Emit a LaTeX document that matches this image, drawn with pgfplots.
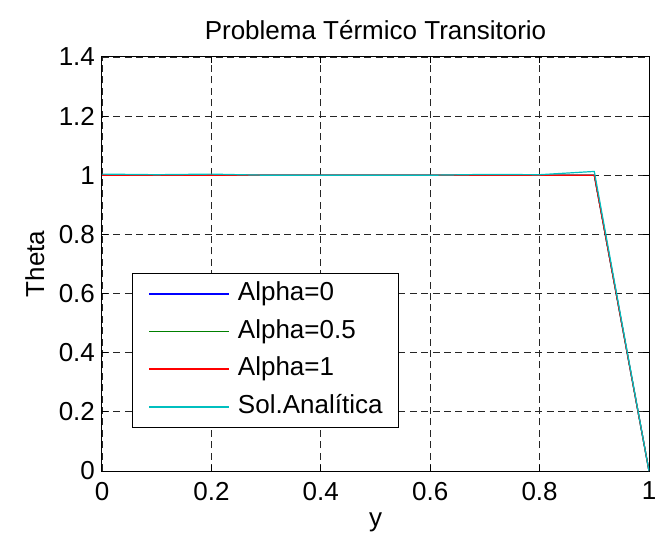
\documentclass[border=0pt]{standalone}
\usepackage{fontspec}
\setmainfont{Liberation Sans}
\usepackage{pgfplots}
\pgfplotsset{compat=1.18}
\definecolor{matblue}{rgb}{0,0,1}
\definecolor{matgreen}{rgb}{0,0.5,0}
\definecolor{matred}{rgb}{1,0,0}
\definecolor{matcyan}{rgb}{0,0.75,0.75}
\begin{document}
\begin{tikzpicture}
\useasboundingbox (-51pt,-37pt) rectangle (277.5pt,235.5pt);
\begin{axis}[
  at={(0pt,0pt)}, anchor=south west,
  scale only axis,
  width=273.5pt, height=207pt,
  xmin=0, xmax=1, ymin=0, ymax=1.4,
  xtick={0,0.2,0.4,0.6,0.8,1},
  ytick={0,0.2,0.4,0.6,0.8,1,1.2,1.4},
  xticklabels={0,0.2,0.4,0.6,0.8,1},
  yticklabels={0,0.2,0.4,0.6,0.8,1,1.2,1.4},
  font=\fontsize{13}{15}\selectfont,
  /pgf/number format/assume math mode=true,
  tick align=inside,
  major tick length=3pt,
  axis line style={line width=0.5pt},
  every tick/.style={black, line width=0.5pt},
  grid=major,
  major grid style={dash pattern=on 3.5pt off 2.2pt, black!85, line width=0.4pt},
  title={Problema Térmico Transitorio},
  every axis title shift=0pt,
  title style={at={(axis description cs:0.5,1)}, anchor=base, yshift=8.5pt, inner sep=0pt},
  xlabel={y},
  ylabel={Theta},
  xlabel style={at={(axis description cs:0.5,-0.123)}, anchor=center},
  ylabel style={at={(axis description cs:-0.123,0.5)}, anchor=center},
  xticklabel style={yshift=-2pt},
  legend cell align=left,
  legend image code/.code={\path (0pt,0pt); \draw[#1, line width=0.9pt] (4pt,0pt) -- (44pt,0pt);},
  legend style={
    at={(axis description cs:0.0548,0.1039)}, anchor=south west,
    draw=black, line width=0.5pt, fill=white,
    inner xsep=4pt, inner ysep=4pt,
    row sep=6.35pt,
    nodes={inner xsep=4pt, inner ysep=0pt, text height=9.5pt, text depth=3pt},
    font=\fontsize{13}{15}\selectfont,
  },
]
\addplot[draw=matblue, line width=0.6pt] coordinates {
 (0,1) (0.1,1) (0.2,1) (0.3,1) (0.4,1) (0.5,1) (0.6,1) (0.7,1) (0.8,1) (0.9,1) (1,0)};
\addlegendentry{Alpha=0}
\addplot[draw=matgreen, line width=0.6pt] coordinates {
 (0,1) (0.1,1) (0.2,1) (0.3,1) (0.4,1) (0.5,1) (0.6,1) (0.7,1) (0.8,1) (0.9,1) (1,0)};
\addlegendentry{Alpha=0.5}
\addplot[draw=matred, line width=0.6pt] coordinates {
 (0,1) (0.1,1) (0.2,1) (0.3,1) (0.4,1) (0.5,1) (0.6,1) (0.7,1) (0.8,1) (0.9,1) (1,0)};
\addlegendentry{Alpha=1}
\addplot[draw=matcyan, line width=0.6pt] coordinates {
 (0,1.004) (0.1,1.002) (0.2,1.004) (0.3,1.0) (0.4,1.0) (0.5,1.0) (0.6,1.0) (0.7,1.003) (0.8,1.002) (0.9,1.013) (1,0)};
\addlegendentry{Sol.Analítica}
\end{axis}
\end{tikzpicture}
\end{document}
